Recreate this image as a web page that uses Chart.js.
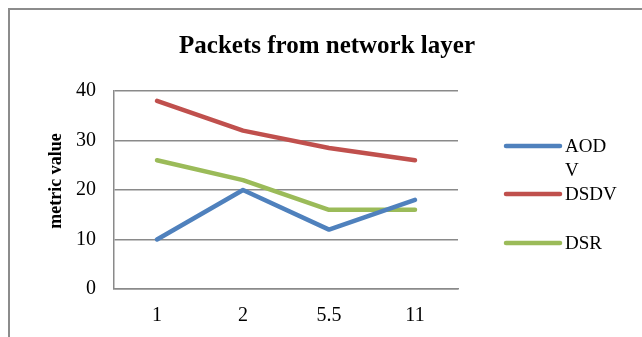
<!DOCTYPE html>
<html>
<head>
<meta charset="utf-8">
<script src="https://cdn.jsdelivr.net/npm/chart.js@4/dist/chart.umd.min.js"></script>
<style>
  html, body { margin: 0; padding: 0; background: #fff; }
  #wrap { width: 642px; height: 337px; position: relative; }
</style>
</head>
<body>
<div id="wrap"><canvas id="c" width="642" height="337"></canvas></div>
<script>
// Data rate categories and series values
const categories = ['1', '2', '5.5', '11'];
const aodv = [10, 20, 12, 18];
const dsdv = [38, 32, 28.5, 26];
const dsr  = [26, 22, 16, 16];
const seriesNames = ['AODV', 'DSDV', 'DSR'];
const legendLines = [['AOD', 'V'], ['DSDV'], ['DSR']];
const yTicks = [0, 10, 20, 30, 40];
const chartTitle = 'Packets from network layer';
const yCaption = 'metric value';

const colors = ['#4F81BD', '#C0504D', '#9BBB59'];
const serif = '"Liberation Serif", "Times New Roman", serif';
const gridGray = '#8a8a8a';

// Outer frame and heading
const framePlugin = {
  id: 'frame',
  beforeDraw(chart) {
    const ctx = chart.ctx;
    ctx.save();
    ctx.fillStyle = '#fff';
    ctx.fillRect(0, 0, chart.width, chart.height);
    ctx.strokeStyle = '#8c8c8c';
    ctx.lineWidth = 2;
    ctx.strokeRect(9, 9, chart.width + 20, chart.height + 20);
    ctx.font = 'bold 25px ' + serif;
    ctx.fillStyle = '#000';
    ctx.textAlign = 'center';
    ctx.textBaseline = 'alphabetic';
    ctx.fillText(chartTitle, 327, 53);
    ctx.restore();
  }
};

// Vertical axis caption
const yCaptionPlugin = {
  id: 'yCaption',
  afterDraw(chart) {
    const ctx = chart.ctx;
    ctx.save();
    ctx.translate(56, 181);
    ctx.rotate(-Math.PI / 2);
    ctx.font = 'bold 18px ' + serif;
    ctx.fillStyle = '#000';
    ctx.textAlign = 'center';
    ctx.textBaseline = 'middle';
    ctx.fillText(yCaption, 0, 0);
    ctx.restore();
  }
};

// Series key on the right
const keyPlugin = {
  id: 'key',
  afterDraw(chart) {
    const ctx = chart.ctx;
    const rows = [146, 194, 243];
    ctx.save();
    chart.data.datasets.forEach((ds, i) => {
      const y = rows[i];
      ctx.strokeStyle = ds.borderColor;
      ctx.lineWidth = 4.5;
      ctx.lineCap = 'round';
      ctx.beginPath();
      ctx.moveTo(506, y);
      ctx.lineTo(560, y);
      ctx.stroke();
      ctx.font = '19px ' + serif;
      ctx.fillStyle = '#000';
      ctx.textAlign = 'left';
      ctx.textBaseline = 'middle';
      legendLines[i].forEach((line, j) => {
        ctx.fillText(line, 565, y + 1 + j * 24);
      });
    });
    ctx.restore();
  }
};

new Chart(document.getElementById('c'), {
  type: 'line',
  data: {
    labels: categories,
    datasets: [aodv, dsdv, dsr].map((vals, i) => ({
      label: seriesNames[i],
      data: vals,
      borderColor: colors[i],
      backgroundColor: colors[i],
      borderWidth: 4.5,
      borderCapStyle: 'round',
      borderJoinStyle: 'round',
      pointRadius: 0,
      tension: 0,
      fill: false
    }))
  },
  options: {
    responsive: false,
    animation: false,
    layout: { padding: { left: 0, right: 184, top: 91, bottom: 0 } },
    plugins: {
      legend: { display: false },
      tooltip: { enabled: false },
      title: { display: false }
    },
    scales: {
      x: {
        type: 'category',
        offset: true,
        grid: { display: false, drawTicks: false },
        border: { display: true, color: gridGray, width: 1.5 },
        ticks: { color: '#000', font: { family: serif, size: 20 }, padding: 15 },
        afterFit(s) { s.height = 48; }
      },
      y: {
        min: 0,
        max: 40,
        afterBuildTicks(s) { s.ticks = yTicks.map(v => ({ value: v })); },
        grid: { color: gridGray, lineWidth: 1.5, drawTicks: false },
        border: { display: true, color: gridGray, width: 1.5 },
        ticks: { color: '#000', font: { family: serif, size: 20 }, padding: 18 },
        afterFit(s) { s.width = 114; }
      }
    }
  },
  plugins: [framePlugin, yCaptionPlugin, keyPlugin]
});
</script>
</body>
</html>
